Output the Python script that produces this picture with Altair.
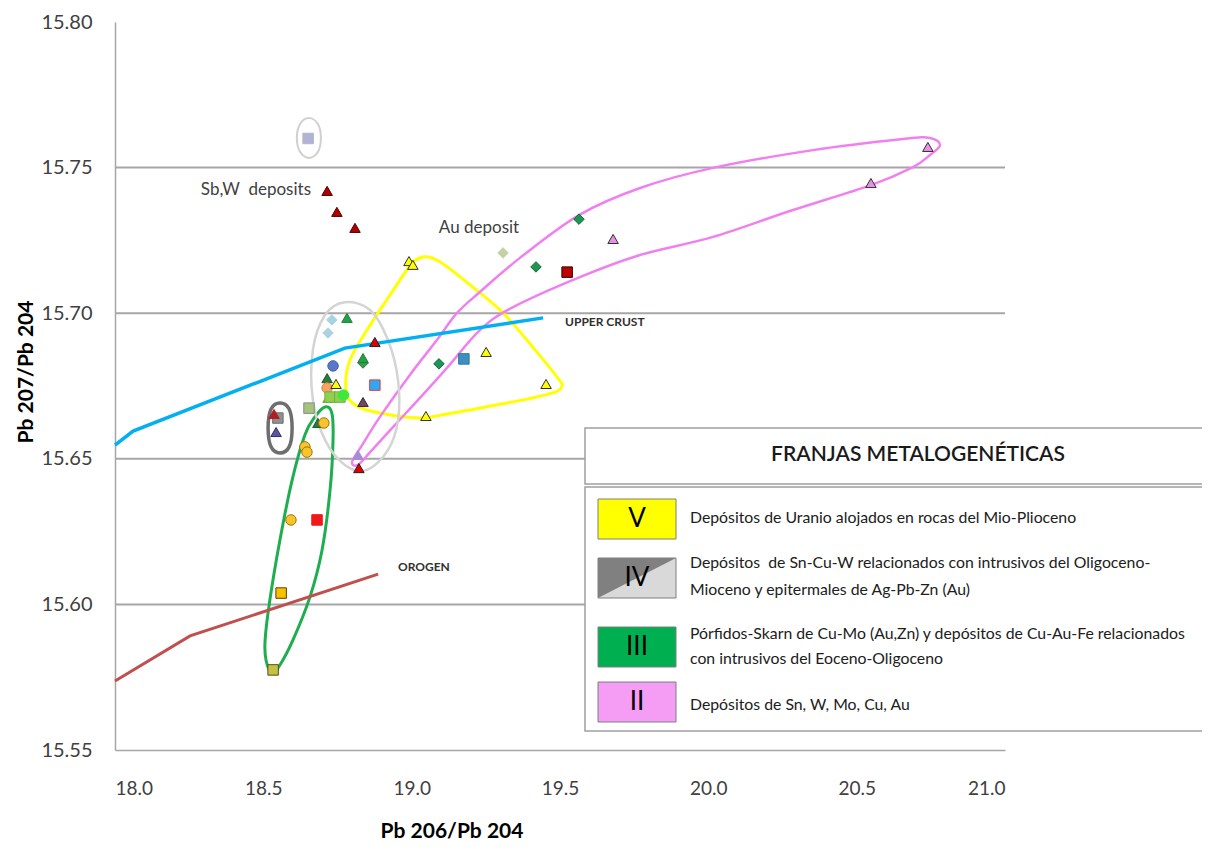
import altair as alt
import pandas as pd

# ---------------- axes ----------------
x_ticks = [18.0, 18.5, 19.0, 19.5, 20.0, 20.5, 21.0]
y_ticks = [15.55, 15.60, 15.65, 15.70, 15.75, 15.80]
grid_y = [15.60, 15.65, 15.70, 15.75]

# ---------------- sample points ----------------
pt_type = [
    "Lavender-square", "SbW-tri", "SbW-tri", "SbW-tri",
    "Yellow-tri", "Yellow-tri", "Pale-diamond", "Green-diamond", "DarkRed-square",
    "Green-diamond", "Pink-tri", "Pink-tri", "Pink-tri",
    "Green-diamond", "Teal-square", "Yellow-tri", "Yellow-tri", "Yellow-tri",
    "LightBlue-diamond", "LightBlue-diamond", "Green-tri", "Red-tri", "Blue-circle",
    "Mid-diamond", "Green-tri", "Blue-square", "DarkGreen-tri", "Orange-circle",
    "Olive-tri", "LightGreen-square", "LightGreen-square", "Lime-circle", "Yellow-tri",
    "Brown-tri", "Sage-square", "DarkGreen-tri", "Gold-circle",
    "Grey-square", "Maroon-tri", "Indigo-tri", "Gold-circle", "Gold-circle",
    "Lilac-tri", "Red-tri", "Gold-circle", "Red-square", "Gold-square", "Khaki-square",
]
pt_x = [
    18.651, 18.715, 18.748, 18.809,
    18.991, 19.004, 19.308, 19.419, 19.524,
    19.564, 19.679, 20.548, 20.740,
    19.092, 19.176, 19.251, 19.453, 19.048,
    18.731, 18.718, 18.782, 18.876, 18.735,
    18.836, 18.836, 18.876, 18.715, 18.715,
    18.718, 18.725, 18.758, 18.770, 18.745,
    18.836, 18.654, 18.684, 18.704,
    18.549, 18.536, 18.543, 18.640, 18.647,
    18.819, 18.822, 18.593, 18.681, 18.560, 18.533,
]
pt_y = [
    15.7600, 15.7420, 15.7348, 15.7293,
    15.7179, 15.7166, 15.7207, 15.7159, 15.7141,
    15.7323, 15.7255, 15.7447, 15.7571,
    15.6826, 15.6843, 15.6867, 15.6757, 15.6647,
    15.6977, 15.6932, 15.6984, 15.6901, 15.6819,
    15.6829, 15.6846, 15.6753, 15.6777, 15.6743,
    15.6709, 15.6712, 15.6712, 15.6719, 15.6757,
    15.6695, 15.6674, 15.6623, 15.6623,
    15.6640, 15.6654, 15.6592, 15.6541, 15.6523,
    15.6513, 15.6468, 15.6290, 15.6290, 15.6039, 15.5775,
]

# style per sample type: shape, fill, stroke, size
STYLE = {
    "Lavender-square": ("square", "#b2b2d2", "#b2b2d2", 110),
    "SbW-tri": ("triangle-up", "#b00000", "#500000", 110),
    "Yellow-tri": ("triangle-up", "#ffff00", "#303030", 115),
    "Pale-diamond": ("diamond", "#c5d1a5", "#c5d1a5", 105),
    "Green-diamond": ("diamond", "#1f9455", "#0e6b38", 110),
    "Mid-diamond": ("diamond", "#3a9a50", "#2a7a40", 105),
    "DarkRed-square": ("square", "#c00000", "#300000", 130),
    "Pink-tri": ("triangle-up", "#e890e8", "#303030", 115),
    "Teal-square": ("square", "#3c8fc0", "#2c7a9a", 130),
    "LightBlue-diamond": ("diamond", "#a9d3e3", "#a9d3e3", 105),
    "Green-tri": ("triangle-up", "#25a048", "#1a8038", 110),
    "Red-tri": ("triangle-up", "#e00000", "#202020", 115),
    "Blue-circle": ("circle", "#5a78c8", "#4060a8", 130),
    "Blue-square": ("square", "#2ea8f2", "#e04040", 130),
    "DarkGreen-tri": ("triangle-up", "#2a7a3a", "#1a5a2a", 110),
    "Orange-circle": ("circle", "#f4a460", "#e08040", 130),
    "Olive-tri": ("triangle-up", "#86a845", "#86a845", 110),
    "LightGreen-square": ("square", "#8fd04f", "#70b040", 130),
    "Lime-circle": ("circle", "#3ee83e", "#3ee83e", 130),
    "Brown-tri": ("triangle-up", "#6a4a60", "#402030", 85),
    "Sage-square": ("square", "#a3c47a", "#8a8a8a", 130),
    "Gold-circle": ("circle", "#f7c52a", "#a07010", 120),
    "Grey-square": ("square", "#909090", "#707070", 130),
    "Maroon-tri": ("triangle-up", "#b02020", "#b02020", 70),
    "Indigo-tri": ("triangle-up", "#5a55a0", "#303060", 95),
    "Lilac-tri": ("triangle-up", "#a78bd8", "#a78bd8", 85),
    "Red-square": ("square", "#f01818", "#f01818", 115),
    "Gold-square": ("square", "#f8c000", "#5a4000", 130),
    "Khaki-square": ("square", "#c8c040", "#505020", 130),
}

# ---------------- reference lines ----------------
crust_x = [18.000, 18.061, 18.775, 19.443]
crust_y = [15.6547, 15.6595, 15.6880, 15.6984]
orogen_x = [18.000, 18.253, 18.887]
orogen_y = [15.5737, 15.5892, 15.6104]

# ---------------- field outlines (traced) ----------------
yellow_x = [19.038, 19.096, 19.197, 19.308, 19.416, 19.493, 19.507, 19.483, 19.389, 19.264,
            19.119, 19.028, 18.893, 18.809, 18.779, 18.792, 18.860, 18.934, 18.994]
yellow_y = [15.7193, 15.7176, 15.7097, 15.7001, 15.6874, 15.6777, 15.6750, 15.6729, 15.6705, 15.6681,
            15.6654, 15.6640, 15.6657, 15.6685, 15.6736, 15.6839, 15.6959, 15.7073, 15.7162]
pink_x = [18.799, 18.833, 18.893, 18.994, 19.085, 19.153, 19.230, 19.365, 19.564, 19.770,
          20.016, 20.353, 20.656, 20.747, 20.781, 20.747, 20.690, 20.548, 20.275, 20.016,
          19.770, 19.567, 19.342, 19.230, 19.119, 19.028, 18.937, 18.860, 18.819]
pink_y = [15.6489, 15.6547, 15.6644, 15.6788, 15.6908, 15.7001, 15.7073, 15.7190, 15.7337, 15.7430,
          15.7499, 15.7560, 15.7598, 15.7602, 15.7578, 15.7543, 15.7502, 15.7440, 15.7351, 15.7262,
          15.7200, 15.7124, 15.7021, 15.6942, 15.6812, 15.6709, 15.6609, 15.6523, 15.6479]
green_x = [18.708, 18.731, 18.735, 18.725, 18.698, 18.657, 18.600, 18.556, 18.529, 18.509,
           18.506, 18.522, 18.556, 18.597, 18.640, 18.674]
green_y = [15.6678, 15.6657, 15.6565, 15.6393, 15.6187, 15.6025, 15.5878, 15.5792, 15.5764, 15.5809,
           15.5878, 15.6015, 15.6221, 15.6427, 15.6582, 15.6644]
grey_x = [18.775, 18.860, 18.920, 18.954, 18.954, 18.920, 18.849, 18.775, 18.708, 18.667, 18.667, 18.708]
grey_y = [15.7038, 15.7011, 15.6908, 15.6771, 15.6633, 15.6530, 15.6462, 15.6479, 15.6565, 15.6702,
          15.6874, 15.6994]
dgrey_x = [18.556, 18.587, 18.597, 18.587, 18.556, 18.526, 18.516, 18.526]
dgrey_y = [15.6692, 15.6671, 15.6606, 15.6541, 15.6520, 15.6541, 15.6606, 15.6671]
small_x = [18.654, 18.684, 18.694, 18.684, 18.654, 18.624, 18.613, 18.624]
small_y = [15.7670, 15.7650, 15.7602, 15.7554, 15.7533, 15.7554, 15.7602, 15.7650]

# ---------------- annotations ----------------
ann_text = ["Sb,W\u00a0 deposits", "Au deposit"]
ann_x = [18.475, 19.227]
ann_y = [15.7423, 15.7293]
bold_text = ["UPPER CRUST", "OROGEN"]
bold_x = [19.517, 18.954]
bold_y = [15.6970, 15.6128]

legend_title = "FRANJAS METALOGENÉTICAS"
legend_num = ["V", "IV", "III", "II"]
legend_lines = [
    ["Depósitos de Uranio alojados en rocas del Mio-Plioceno"],
    ["Depósitos\u00a0 de Sn-Cu-W relacionados con intrusivos del Oligoceno-",
     "Mioceno y epitermales de Ag-Pb-Zn (Au)"],
    ["Pórfidos-Skarn de Cu-Mo (Au,Zn) y depósitos de Cu-Au-Fe relacionados",
     "con intrusivos del Eoceno-Oligoceno"],
    ["Depósitos de Sn, W, Mo, Cu, Au"],
]
legend_fill = ["#ffff00", "#d9d9d9", "#00b050", "#f59cf5"]

FONT = "Lato"
W, H = 890, 728

X = lambda f: alt.X(f, type="quantitative", scale=alt.Scale(domain=[18, 21], nice=False, zero=False),
                    axis=alt.Axis(values=x_ticks, format=".1f", title=None, ticks=False, grid=False,
                                  labelFontSize=19, labelPadding=29, labelColor="#404040",
                                  domainColor="#a6a6a6", domainWidth=1.5, labelFont=FONT))
Y = lambda f: alt.Y(f, type="quantitative", scale=alt.Scale(domain=[15.55, 15.80], nice=False, zero=False),
                    axis=alt.Axis(values=y_ticks, format=".2f", title=None, ticks=False, grid=False,
                                  labelFontSize=20, labelPadding=23, labelColor="#404040",
                                  domainColor="#a6a6a6", domainWidth=1.5, labelFont=FONT))

one = pd.DataFrame({"k": [0]})

layers = []

# grid lines
layers.append(alt.Chart(pd.DataFrame({"y": grid_y})).mark_rule(color="#a6a6a6", strokeWidth=2).encode(
    y=Y("y"), x=alt.value(0), x2=alt.value(W)))

# outlines
outl = []
for name, xs, ys in [("yellow", yellow_x, yellow_y), ("pink", pink_x, pink_y), ("green", green_x, green_y),
                     ("grey", grey_x, grey_y), ("dgrey", dgrey_x, dgrey_y), ("small", small_x, small_y)]:
    for i, (a, b) in enumerate(zip(xs, ys)):
        outl.append({"field": name, "ord": i, "x": a, "y": b})
outl = pd.DataFrame(outl)
o_style = {"yellow": ("#ffff00", 3), "pink": ("#f080f0", 2.5), "green": ("#1fae4f", 3),
           "grey": ("#d4d4d4", 2.5), "dgrey": ("#6e6e6e", 3.5), "small": ("#d0d0d0", 2)}
for name, (col, sw) in o_style.items():
    layers.append(alt.Chart(outl[outl.field == name]).mark_line(
        interpolate="cardinal-closed", color=col, strokeWidth=sw).encode(
        x=X("x"), y=Y("y"), order="ord:Q"))

# reference lines
layers.append(alt.Chart(pd.DataFrame({"x": crust_x, "y": crust_y})).mark_line(
    color="#00b0f0", strokeWidth=3.5).encode(x=X("x"), y=Y("y")))
layers.append(alt.Chart(pd.DataFrame({"x": orogen_x, "y": orogen_y})).mark_line(
    color="#c0504d", strokeWidth=3).encode(x=X("x"), y=Y("y")))

# points
pts = pd.DataFrame({"x": pt_x, "y": pt_y, "t": pt_type, "i": range(len(pt_x))})
dom = list(STYLE.keys())
layers.append(alt.Chart(pts).mark_point(filled=True, opacity=1, strokeWidth=1).encode(
    x=X("x"), y=Y("y"),
    shape=alt.Shape("t:N", scale=alt.Scale(domain=dom, range=[STYLE[k][0] for k in dom]), legend=None),
    fill=alt.Fill("t:N", scale=alt.Scale(domain=dom, range=[STYLE[k][1] for k in dom]), legend=None),
    stroke=alt.Stroke("t:N", scale=alt.Scale(domain=dom, range=[STYLE[k][2] for k in dom]), legend=None),
    size=alt.Size("t:N", scale=alt.Scale(domain=dom, range=[STYLE[k][3] for k in dom]), legend=None),
    order="i:Q"))

# annotations
layers.append(alt.Chart(pd.DataFrame({"x": ann_x, "y": ann_y, "t": ann_text})).mark_text(
    font=FONT, fontSize=17, color="#404040", align="center", baseline="middle").encode(
    x=X("x"), y=Y("y"), text="t:N"))
layers.append(alt.Chart(pd.DataFrame({"x": bold_x, "y": bold_y, "t": bold_text})).mark_text(
    font=FONT, fontSize=12, fontWeight="bold", color="#303030", align="left", baseline="middle").encode(
    x=X("x"), y=Y("y"), text="t:N"))

# axis titles
layers.append(alt.Chart(one).mark_text(text="Pb 207/Pb 204", font=FONT, fontSize=21, fontWeight="bold",
                                       angle=270, color="#000000", align="center", baseline="middle").encode(
    x=alt.value(-88), y=alt.value(350)))
layers.append(alt.Chart(one).mark_text(text="Pb 206/Pb 204", font=FONT, fontSize=21, fontWeight="bold",
                                       color="#000000", align="center", baseline="middle").encode(
    x=alt.value(337), y=alt.value(810)))


def rect(x1, x2, y1, y2, fill, stroke="#a0a0a0", sw=1.5):
    return alt.Chart(one).mark_rect(fill=fill, stroke=stroke, strokeWidth=sw).encode(
        x=alt.value(x1), x2=alt.value(x2), y=alt.value(y1), y2=alt.value(y2))


def txt(s, x, y, size=15.8, align="left", weight="normal", color="#202020"):
    return alt.Chart(one).mark_text(text=s, font=FONT, fontSize=size, fontWeight=weight, color=color,
                                    align=align, baseline="middle").encode(x=alt.value(x), y=alt.value(y))


# legend boxes
layers.append(rect(470, 1110, 406, 462, "white"))
layers.append(rect(470, 1110, 465, 709, "white"))
layers.append(txt(legend_title, 803, 433, size=21, align="center", weight=600, color="#1a1a1a"))

sw_top = [477, 536, 605, 660]
text_y = [[496], [541, 568], [612, 637], [683]]
for k in range(4):
    layers.append(rect(483, 561, sw_top[k], sw_top[k] + 40, legend_fill[k], stroke="#7f7f7f", sw=1))
    if k == 1:
        layers.append(alt.Chart(one).mark_point(
            shape="M -1 -0.513 L 1 -0.513 L -1 0.513 Z", filled=True, fill="#808080", opacity=1,
            strokeWidth=0, size=78 * 78).encode(x=alt.value(522), y=alt.value(sw_top[k] + 20)))
    layers.append(txt(legend_num[k], 522, sw_top[k] + 20, size=26, align="center", color="#000000"))
    for s, yy in zip(legend_lines[k], text_y[k]):
        layers.append(txt(s, 575, yy))

chart = alt.layer(*layers).properties(
    width=W, height=H,
    padding={"left": 107, "top": 14, "right": 197, "bottom": 100},
    autosize=alt.AutoSizeParams(type="none"),
    background="white",
).configure_view(stroke=None)

chart.save("out.html", embed_options={"renderer": "svg", "actions": False})
